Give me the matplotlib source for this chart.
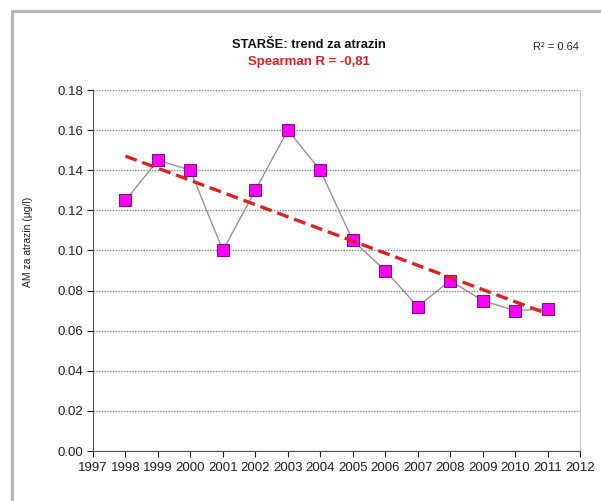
import numpy as np
import matplotlib.pyplot as plt
from matplotlib.lines import Line2D

years = [1998, 1999, 2000, 2001, 2002, 2003, 2004, 2005, 2006, 2007, 2008, 2009, 2010, 2011]
atrazin = [0.125, 0.145, 0.140, 0.100, 0.130, 0.160, 0.140, 0.105, 0.090, 0.072, 0.085, 0.075, 0.070, 0.071]
x_ticks = list(range(1997, 2013))
y_ticks = [0.00, 0.02, 0.04, 0.06, 0.08, 0.10, 0.12, 0.14, 0.16, 0.18]

plt.rcParams["font.family"] = ["Liberation Sans", "DejaVu Sans"]

W, H = 601, 501
fig = plt.figure(figsize=(W / 100, H / 100), dpi=100)
fig.patch.set_facecolor("white")
# outer frame of the chart (top and left edges only are visible)
frame_x = [12 / W, 12 / W, 1.0]
frame_y = [0.0, 1 - 11 / H, 1 - 11 / H]
fig.lines.append(Line2D(frame_x, frame_y, transform=fig.transFigure,
                        color="#b8b8b8", linewidth=2.4))

ax = fig.add_axes([93 / W, 1 - 451 / H, (580 - 93) / W, (451 - 90) / H])
ax.set_xlim(1997, 2012)
ax.set_ylim(0, 0.18)
ax.set_xticks(x_ticks)
ax.set_yticks(y_ticks)
ax.set_yticklabels([f"{v:.2f}" for v in y_ticks])
ax.tick_params(axis="both", direction="out", length=4, width=0.8, labelsize=9.5, colors="#222222")
ax.tick_params(axis="x", pad=4)
ax.tick_params(axis="y", pad=3)

ax.spines["top"].set_visible(False)
ax.spines["right"].set_color("#c8c8c8")
ax.spines["left"].set_color("#555555")
ax.spines["bottom"].set_color("#555555")

ax.yaxis.grid(True, linestyle=(0, (1, 1)), color="#888888", linewidth=1.0)
ax.set_axisbelow(True)

ax.plot(years, atrazin, color="#9a8fa6", linewidth=1.0, zorder=2)
ax.plot(years, atrazin, linestyle="none", marker="s", markersize=8,
        markerfacecolor="#ff00ff", markeredgecolor="#7a1a7a", markeredgewidth=0.8, zorder=3)

slope, intercept = np.polyfit(years, atrazin, 1)
trend_x = np.array([years[0], years[-1]])
ax.plot(trend_x, slope * trend_x + intercept, color="#dd2020", linewidth=2.4,
        linestyle=(0, (3.6, 1.8)), zorder=4)

fig.text(28 / W, 1 - 242 / H, "AM za atrazin (µg/l)", rotation=90, ha="center", va="center",
         fontsize=7.5, color="#222222")

fig.text(309 / W, 1 - 45 / H, "STARŠE: trend za atrazin", ha="center", va="center",
         fontsize=9.3, fontweight="bold", color="#111111")
fig.text(309 / W, 1 - 62 / H, "Spearman R = -0,81", ha="center", va="center",
         fontsize=9.5, fontweight="bold", color="#dd2020")
fig.text(556 / W, 1 - 47 / H, "R² = 0.64", ha="center", va="center",
         fontsize=8, color="#222222")

fig.savefig("out.png", dpi=100, facecolor="white")
